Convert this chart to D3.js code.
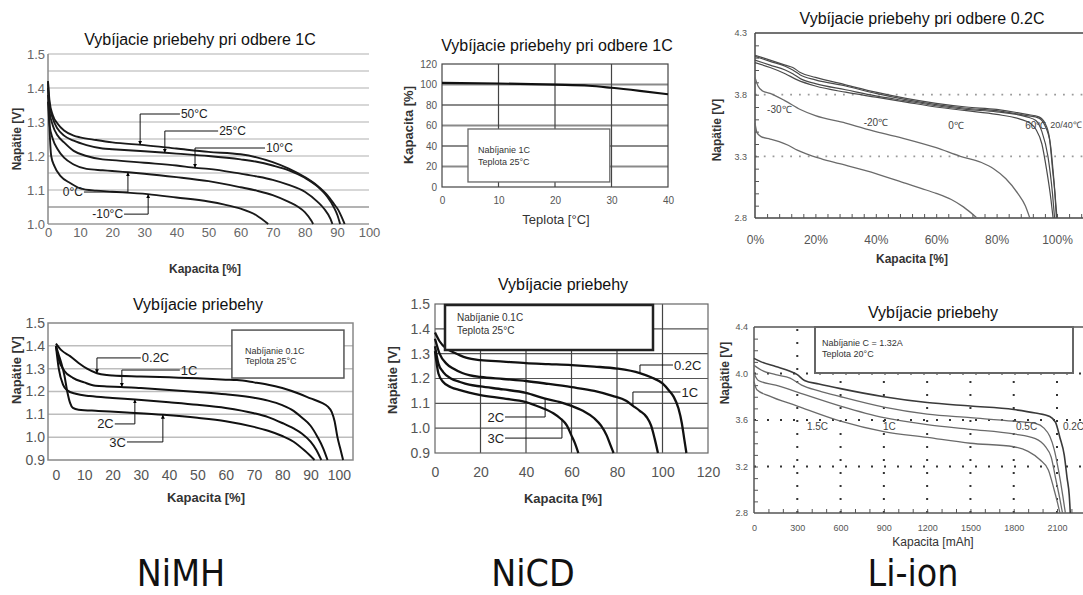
<!DOCTYPE html>
<html>
<head>
<meta charset="utf-8">
<script src="https://cdn.jsdelivr.net/npm/d3@7"></script>
<style>
  body { margin: 0; background: #fff; }
  text { font-family: "Liberation Sans", Arial, sans-serif; }
</style>
</head>
<body>
<svg id="chart" width="1083" height="595"></svg>
<script>
// ---------- data ----------

// NiMH, 1C discharge at different temperatures: [capacity %, voltage V]
const nimhTempLabels = ['50°C', '25°C', '10°C', '0°C', '-10°C'];
const nimhT50 = [[0,1.42],[0.5,1.36],[1.5,1.32],[3,1.295],[5,1.275],[8,1.26],[10,1.255],[15,1.247],[20,1.24],[30,1.232],[40,1.222],[50,1.212],[60,1.205],[65,1.196],[70,1.182],[75,1.163],[80,1.138],[84,1.112],[87,1.085],[89,1.06],[90.5,1.04],[91.5,1.02],[92.4,1.0]];
const nimhT25 = [[0,1.40],[0.5,1.35],[1.5,1.31],[3,1.28],[5,1.26],[8,1.245],[12,1.232],[17,1.222],[20,1.22],[30,1.214],[40,1.207],[50,1.2],[60,1.19],[65,1.183],[70,1.172],[75,1.158],[80,1.136],[84,1.11],[87,1.08],[89,1.05],[90.2,1.025],[91,1.0]];
const nimhT10 = [[0,1.38],[0.5,1.33],[1.5,1.29],[3,1.26],[5,1.24],[8,1.215],[12,1.2],[17,1.19],[20,1.188],[30,1.18],[40,1.172],[46,1.165],[50,1.162],[60,1.148],[65,1.14],[70,1.13],[75,1.115],[80,1.095],[84,1.065],[86,1.045],[88,1.015],[88.6,1.0]];
const nimhT0 = [[0,1.36],[0.5,1.29],[1.5,1.25],[3,1.22],[5,1.195],[8,1.175],[12,1.162],[17,1.158],[20,1.156],[25,1.152],[30,1.148],[40,1.138],[50,1.126],[60,1.108],[65,1.098],[70,1.085],[75,1.065],[78,1.05],[80,1.035],[82,1.01],[82.6,1.0]];
const nimhTm10 = [[0,1.42],[0.4,1.3],[1,1.2],[2,1.17],[4,1.14],[7,1.12],[10,1.105],[15,1.098],[20,1.095],[31,1.088],[40,1.078],[50,1.066],[55,1.057],[60,1.045],[65,1.025],[68.6,1.0]];

// NiCd, capacity vs. temperature at 1C: [temperature °C, capacity %]
const nicdTempCap = [[0,101.5],[10,101],[20,99.8],[26,98.8],[30,96.8],[35,93.8],[40,90.5]];

// Li-ion, 0.2C discharge at different temperatures: [capacity %, voltage V]
const liTempLabels = ['-30℃', '-20℃', '0℃', '60℃', '20/40℃'];
const liT20 = [[0,4.12],[5,4.08],[10,4.04],[12.5,4.02],[15,3.98],[20,3.94],[30,3.88],[40,3.82],[50,3.77],[60,3.73],[70,3.70],[80,3.68],[90,3.64],[94,3.62],[96,3.57],[97.5,3.45],[98.5,3.2],[99.3,3.0],[99.8,2.8]];
const liT40 = [[0,4.11],[5,4.07],[10,4.03],[12.5,4.0],[15,3.96],[20,3.92],[30,3.87],[40,3.81],[50,3.76],[60,3.72],[70,3.69],[80,3.67],[90,3.63],[94,3.61],[96,3.55],[97.8,3.4],[99,3.1],[100,2.8]];
const liT0 = [[0,4.08],[5,4.04],[10,4.0],[12.5,3.97],[15,3.93],[20,3.89],[30,3.84],[40,3.79],[50,3.75],[60,3.71],[70,3.68],[80,3.66],[90,3.62],[93,3.59],[95,3.5],[97,3.3],[98.5,3.0],[99.2,2.8]];
const liT60 = [[0,4.06],[5,4.02],[10,3.97],[14,3.92],[20,3.87],[30,3.82],[40,3.78],[50,3.74],[60,3.70],[70,3.67],[80,3.64],[88,3.60],[91,3.57],[93,3.52],[95,3.4],[96.5,3.2],[98,2.95],[98.7,2.8]];
const liTm20 = [[0,3.94],[1,3.87],[2.5,3.83],[5,3.81],[10,3.75],[15,3.68],[20,3.63],[30,3.57],[40,3.50],[50,3.44],[60,3.37],[68,3.30],[75,3.25],[79,3.20],[83,3.12],[87,3.0],[89.5,2.9],[91,2.8]];
const liTm30 = [[0,3.57],[0.7,3.49],[2,3.46],[5,3.44],[8,3.42],[11,3.39],[14,3.35],[17,3.32],[22,3.28],[28,3.24],[40,3.16],[50,3.08],[55,3.04],[60,3.0],[65,2.95],[69,2.89],[73.5,2.8]];

// NiMH, discharge at different rates: [capacity %, voltage V]
const nimhRateLabels = ['0.2C', '1C', '2C', '3C'];
const nimhR02 = [[0,1.41],[2,1.38],[5,1.355],[8,1.325],[11,1.3],[14.5,1.28],[18,1.272],[20,1.27],[30,1.266],[40,1.262],[50,1.258],[60,1.252],[64,1.25],[70,1.24],[75,1.23],[80,1.215],[86,1.19],[90,1.17],[94,1.15],[96,1.135],[97.5,1.11],[98.5,1.07],[99.5,1.0],[100.5,0.95],[101.5,0.9]];
const nimhR1 = [[0,1.40],[1,1.34],[3,1.29],[6,1.26],[10,1.24],[14,1.225],[18,1.222],[23,1.22],[30,1.215],[40,1.207],[50,1.198],[60,1.188],[70,1.173],[75,1.16],[80,1.14],[84,1.115],[87,1.085],[90,1.05],[92.5,1.0],[94.5,0.95],[96,0.9]];
const nimhR2 = [[0,1.40],[1,1.3],[2.5,1.23],[4,1.205],[7,1.19],[12,1.18],[20,1.172],[28,1.165],[40,1.153],[50,1.142],[60,1.128],[70,1.105],[75,1.088],[80,1.062],[84,1.038],[87,1.015],[90,0.98],[92,0.945],[93.8,0.9]];
const nimhR3 = [[0,1.40],[1,1.36],[2,1.32],[3,1.27],[4,1.2],[5,1.15],[6,1.128],[8,1.12],[15,1.115],[25,1.108],[38,1.098],[50,1.085],[60,1.07],[70,1.045],[75,1.028],[80,1.005],[84,0.98],[88,0.94],[91.4,0.9]];

// NiCd, discharge at different rates: [capacity %, voltage V]
const nicdRateLabels = ['0.2C', '1C', '2C', '3C'];
const nicdR02 = [[0,1.385],[2,1.35],[5,1.32],[8,1.306],[11,1.293],[14,1.283],[20,1.274],[30,1.268],[40,1.262],[50,1.258],[60,1.254],[70,1.248],[80,1.24],[90,1.222],[95,1.205],[100,1.18],[103,1.15],[105,1.125],[107,1.08],[108.5,1.02],[109.5,0.96],[110.5,0.9]];
const nicdR1 = [[0,1.36],[2,1.3],[5,1.26],[8,1.24],[12,1.222],[15,1.214],[20,1.206],[30,1.198],[40,1.19],[50,1.178],[60,1.165],[70,1.15],[78,1.13],[84,1.11],[87,1.09],[90,1.07],[93,1.045],[95,1.01],[96.5,0.96],[98,0.9]];
const nicdR2 = [[0,1.33],[1.5,1.26],[3.6,1.226],[7,1.2],[11,1.186],[15,1.175],[20,1.168],[30,1.156],[40,1.142],[48,1.12],[55,1.105],[60,1.09],[65,1.07],[70,1.04],[73,1.01],[75.5,0.97],[77,0.935],[78.5,0.9]];
const nicdR3 = [[0,1.31],[1.5,1.22],[3.6,1.186],[7,1.165],[11,1.153],[15,1.143],[20,1.133],[30,1.12],[40,1.105],[46,1.085],[52,1.06],[55,1.04],[58,1.01],[60,0.97],[61.5,0.94],[63,0.9]];

// Li-ion, discharge at different rates: [capacity mAh, voltage V]
const liRateLabels = ['0.2C', '0.5C', '1C', '1.5C'];
const liR02 = [[0,4.13],[50,4.10],[150,4.06],[250,4.02],[300,3.99],[350,3.94],[450,3.91],[600,3.87],[900,3.80],[1200,3.75],[1500,3.72],[1800,3.69],[1950,3.66],[2050,3.63],[2090,3.58],[2120,3.45],[2150,3.3],[2170,3.1],[2185,2.95],[2192,2.8]];
const liR05 = [[0,4.07],[50,4.03],[150,3.99],[250,3.96],[330,3.90],[450,3.85],[600,3.80],[900,3.71],[1200,3.65],[1500,3.62],[1800,3.59],[1950,3.57],[2010,3.53],[2050,3.46],[2080,3.35],[2110,3.17],[2140,2.95],[2158,2.8]];
const liR1 = [[0,4.00],[30,3.94],[150,3.90],[300,3.84],[600,3.72],[900,3.62],[1200,3.56],[1500,3.52],[1800,3.48],[1950,3.44],[2020,3.37],[2060,3.28],[2090,3.1],[2120,2.92],[2138,2.8]];
const liR15 = [[0,3.93],[20,3.86],[100,3.81],[300,3.72],[600,3.59],[900,3.50],[1200,3.45],[1500,3.40],[1800,3.37],[1900,3.33],[1980,3.26],[2040,3.17],[2080,3.0],[2105,2.88],[2120,2.8]];

// tick values
const nimhVTicks = [1.0, 1.1, 1.2, 1.3, 1.4, 1.5];
const rateVTicks = [0.9, 1.0, 1.1, 1.2, 1.3, 1.4, 1.5];
const pctTicks = [0, 10, 20, 30, 40, 50, 60, 70, 80, 90, 100];
const nicdPctTicks = [0, 20, 40, 60, 80, 100, 120];
const capTicks = [0, 20, 40, 60, 80, 100, 120];
const tempTicks = [0, 10, 20, 30, 40];
const liTopVTicks = [2.8, 3.3, 3.8, 4.3];
const liTopPctTicks = [0, 20, 40, 60, 80, 100];
const liBotVTicks = [2.8, 3.2, 3.6, 4.0, 4.4];
const mAhTicks = [0, 300, 600, 900, 1200, 1500, 1800, 2100];

const chemistries = ['NiMH', 'NiCD', 'Li-ion'];

// ---------- helpers ----------
const svg = d3.select('#chart');

svg.append('defs').append('marker')
    .attr('id', 'arr')
    .attr('viewBox', '0 0 10 10')
    .attr('refX', 10).attr('refY', 5)
    .attr('markerWidth', 4).attr('markerHeight', 7)
    .attr('orient', 'auto')
  .append('path')
    .attr('d', 'M0,0L10,5L0,10z')
    .attr('fill', '#000');

const lineGen = (x, y) => d3.line()
    .x(d => x(d[0])).y(d => y(d[1]))
    .curve(d3.curveMonotoneX);

function yAt(s, xv) {
    for (let i = 0; i < s.length - 1; i++) {
        if (xv >= s[i][0] && xv <= s[i + 1][0]) {
            const t = (xv - s[i][0]) / (s[i + 1][0] - s[i][0]);
            return s[i][1] + t * (s[i + 1][1] - s[i][1]);
        }
    }
    return s[s.length - 1][1];
}

function tickText(g, axis, tr, size, color) {
    const a = g.append('g').attr('transform', tr).call(axis);
    a.select('.domain').remove();
    a.selectAll('.tick line').remove();
    a.attr('font-size', size).style('color', color);
    return a;
}

function text(g, str, x, y, o) {
    o = o || {};
    const t = g.append('text')
        .attr('x', x).attr('y', y)
        .attr('font-size', o.size || 12)
        .attr('fill', o.fill || '#333')
        .attr('text-anchor', o.anchor || 'start')
        .text(str);
    if (o.weight) t.attr('font-weight', o.weight);
    if (o.dy) t.attr('dy', o.dy);
    if (o.rotate) t.attr('transform', `rotate(-90,${x},${y})`);
    return t;
}

// leader line: vertical from curve to ty, horizontal to hx, label at hx
function note(g, x, y, series, str, a, arrow, size) {
    const tip = yAt(series, a.lx);
    g.append('line')
        .attr('x1', x(a.lx)).attr('x2', x(a.hx))
        .attr('y1', y(a.ty)).attr('y2', y(a.ty))
        .attr('stroke', '#111').attr('stroke-width', 1);
    g.append('line')
        .attr('x1', x(a.lx)).attr('x2', x(a.lx))
        .attr('y1', y(a.ty)).attr('y2', y(tip))
        .attr('stroke', '#111').attr('stroke-width', 1)
        .attr('marker-end', arrow ? 'url(#arr)' : null);
    const right = a.hx > a.lx;
    text(g, str, x(a.hx) + (right ? 1 : -1), y(a.ty), {
        size: size, anchor: right ? 'start' : 'end', dy: '0.35em', fill: '#222'
    });
}

function hlines(g, vals, x0, x1, y, stroke, w, dash) {
    g.append('g').selectAll('line').data(vals).join('line')
        .attr('x1', x0).attr('x2', x1)
        .attr('y1', d => y(d)).attr('y2', d => y(d))
        .attr('stroke', stroke).attr('stroke-width', w)
        .attr('stroke-dasharray', dash || null);
}

function vlines(g, vals, y0, y1, x, stroke, w, dash) {
    g.append('g').selectAll('line').data(vals).join('line')
        .attr('y1', y0).attr('y2', y1)
        .attr('x1', d => x(d)).attr('x2', d => x(d))
        .attr('stroke', stroke).attr('stroke-width', w)
        .attr('stroke-dasharray', dash || null);
}

function curves(g, list, x, y, stroke, w) {
    g.append('g').selectAll('path').data(list).join('path')
        .attr('d', lineGen(x, y))
        .attr('fill', 'none')
        .attr('stroke', stroke)
        .attr('stroke-width', w)
        .attr('stroke-linejoin', 'round');
}

// ---------- 1: NiMH, temperatures ----------
{
    const g = svg.append('g');
    const x = d3.scaleLinear().domain([0, 100]).range([48, 369]);
    const y = d3.scaleLinear().domain([1.0, 1.5]).range([224, 54]);
    const grid = d3.range(1.1, 1.501, 0.05);
    hlines(g, grid, x(0), x(100), y, '#cacaca', 1.6);
    hlines(g, [1.05], x(0), x(100), y, '#9a9a9a', 1.4);
    hlines(g, [1.0], x(0), x(100), y, '#999', 1.4);
    vlines(g, [0], y(1.0), y(1.5), x, '#888', 1.5);

    tickText(g, d3.axisLeft(y).tickValues(nimhVTicks).tickFormat(d3.format('.1f')).tickSize(0).tickPadding(3),
        `translate(${x(0)},0)`, 13, '#666');
    tickText(g, d3.axisBottom(x).tickValues(pctTicks).tickSize(0).tickPadding(4),
        `translate(0,${y(1.0)})`, 13, '#666');

    curves(g, [nimhT50, nimhT25, nimhT10, nimhT0, nimhTm10], x, y, '#1a1a1a', 1.9);

    const notes = [
        {lx: 28.7, hx: 41.1, ty: 1.3235},
        {lx: 36.4, hx: 53.0, ty: 1.2735},
        {lx: 45.8, hx: 67.6, ty: 1.2235},
        {lx: 24.9, hx: 11.2, ty: 1.094},
        {lx: 31.2, hx: 23.7, ty: 1.029}
    ];
    [nimhT50, nimhT25, nimhT10, nimhT0, nimhTm10].forEach((s, i) =>
        note(g, x, y, s, nimhTempLabels[i], notes[i], true, 12));

    text(g, 'Vybíjacie priebehy pri odbere 1C', 200, 45, {size: 16, anchor: 'middle', fill: '#111'});
    text(g, 'Napätie [V]', 21, 139, {size: 12, anchor: 'middle', weight: 'bold', rotate: true, fill: '#333'});
    text(g, 'Kapacita [%]', 205, 273, {size: 12, anchor: 'middle', weight: 'bold', fill: '#333'});
}

// ---------- 2: NiCd, capacity vs temperature ----------
{
    const g = svg.append('g');
    const x = d3.scaleLinear().domain([0, 40]).range([442, 668]);
    const y = d3.scaleLinear().domain([0, 120]).range([187, 64]);
    hlines(g, [20, 40, 60, 80, 100], x(0), x(40), y, '#8a8a8a', 1.8);
    vlines(g, [10, 20, 30], y(0), y(120), x, '#444', 1.2);
    g.append('rect')
        .attr('x', x(0)).attr('y', y(120))
        .attr('width', x(40) - x(0)).attr('height', y(0) - y(120))
        .attr('fill', 'none').attr('stroke', '#444').attr('stroke-width', 1.2);

    tickText(g, d3.axisLeft(y).tickValues(capTicks).tickSize(0).tickPadding(5),
        `translate(${x(0)},0)`, 10, '#555');
    tickText(g, d3.axisBottom(x).tickValues(tempTicks).tickSize(0).tickPadding(10),
        `translate(0,${y(0)})`, 10, '#555');

    curves(g, [nicdTempCap], x, y, '#111', 2.2);

    g.append('rect')
        .attr('x', x(4.6)).attr('y', y(56.6))
        .attr('width', x(29.7) - x(4.6)).attr('height', y(4.9) - y(56.6))
        .attr('fill', '#fff').attr('stroke', '#666').attr('stroke-width', 1.3);
    text(g, 'Nabíjanie 1C', x(4.6) + 10, y(56.6) + 24, {size: 9, fill: '#333'});
    text(g, 'Teplota 25°C', x(4.6) + 10, y(56.6) + 36, {size: 9, fill: '#333'});

    text(g, 'Vybíjacie priebehy pri odbere 1C', 557, 51, {size: 16, anchor: 'middle', fill: '#111'});
    text(g, 'Kapacita [%]', 413, 125, {size: 13, anchor: 'middle', weight: 'bold', rotate: true, fill: '#333'});
    text(g, 'Teplota [°C]', 556, 224, {size: 13, anchor: 'middle', fill: '#333'});
}

// ---------- 3: Li-ion, temperatures ----------
{
    const g = svg.append('g');
    const x = d3.scaleLinear().domain([0, 100]).range([755, 1057]);
    const y = d3.scaleLinear().domain([2.8, 4.3]).range([218, 33]);
    const xEnd = 1083;
    hlines(g, [3.8, 3.3], x(0), xEnd, y, '#9a9a9a', 1.8, '1.8,7');
    hlines(g, [4.3, 2.8], x(0), xEnd, y, '#444', 1.5);
    vlines(g, [0], y(2.8), y(4.3), x, '#444', 1.5);

    const minorL = g.append('g').attr('transform', `translate(${x(0)},0)`)
        .call(d3.axisLeft(y).tickValues(d3.range(2.9, 4.25, 0.1)).tickSize(-4).tickFormat(''));
    minorL.select('.domain').remove();
    minorL.selectAll('line').attr('stroke', '#555');
    const minorB = g.append('g').attr('transform', `translate(0,${y(2.8)})`)
        .call(d3.axisBottom(x).tickValues(d3.range(4, 109, 4)).tickSize(-4).tickFormat(''));
    minorB.select('.domain').remove();
    minorB.selectAll('line').attr('stroke', '#555');

    tickText(g, d3.axisLeft(y).tickValues(liTopVTicks).tickFormat(d3.format('.1f')).tickSize(0).tickPadding(8),
        `translate(${x(0)},0)`, 9, '#555');
    tickText(g, d3.axisBottom(x).tickValues(liTopPctTicks).tickFormat(d => d + '%').tickSize(0).tickPadding(17),
        `translate(0,${y(2.8)})`, 12, '#555');

    curves(g, [liTm30, liTm20], x, y, '#6a6a6a', 1.3);
    curves(g, [liT60, liT0, liT40, liT20], x, y, '#4a4a4a', 1.2);

    const lbl = [[4, 3.676], [36, 3.578], [64, 3.554], [89.5, 3.554], [97.8, 3.554]];
    liTempLabels.forEach((s, i) =>
        text(g, s, x(lbl[i][0]), y(lbl[i][1]), {size: i === 4 ? 9 : 10, dy: '0.35em', fill: '#444'}));

    text(g, 'Vybíjacie priebehy pri odbere 0.2C', 922, 24, {size: 16, anchor: 'middle', fill: '#111'});
    text(g, 'Napätie [V]', 721, 130, {size: 12, anchor: 'middle', weight: 'bold', rotate: true, fill: '#333'});
    text(g, 'Kapacita [%]', 912, 263, {size: 12, anchor: 'middle', weight: 'bold', fill: '#333'});
}

// ---------- 4: NiMH, rates ----------
{
    const g = svg.append('g');
    const x = d3.scaleLinear().domain([-2.8, 105]).range([48, 353]);
    const y = d3.scaleLinear().domain([0.9, 1.5]).range([460, 323]);
    hlines(g, [1.0, 1.1, 1.2, 1.3, 1.4], x(-2.8), x(105), y, '#bdbdbd', 1.5);
    g.append('rect')
        .attr('x', x(-2.8)).attr('y', y(1.5))
        .attr('width', x(105) - x(-2.8)).attr('height', y(0.9) - y(1.5))
        .attr('fill', 'none').attr('stroke', '#888').attr('stroke-width', 1.5);

    tickText(g, d3.axisLeft(y).tickValues(rateVTicks).tickFormat(d3.format('.1f')).tickSize(0).tickPadding(3),
        `translate(${x(-2.8)},0)`, 14, '#555');
    tickText(g, d3.axisBottom(x).tickValues(pctTicks).tickSize(0).tickPadding(10),
        `translate(0,${y(0.9)})`, 14, '#555');

    const list = [nimhR02, nimhR1, nimhR2, nimhR3];
    curves(g, list, x, y, '#111', 2);

    const notes = [
        {lx: 14.5, hx: 30.0, ty: 1.347},
        {lx: 23.3, hx: 43.8, ty: 1.294},
        {lx: 27.9, hx: 20.8, ty: 1.058},
        {lx: 37.8, hx: 25.1, ty: 0.979}
    ];
    list.forEach((s, i) => note(g, x, y, s, nimhRateLabels[i], notes[i], true, 13));

    g.append('rect')
        .attr('x', x(62.2)).attr('y', y(1.469))
        .attr('width', x(101.8) - x(62.2)).attr('height', y(1.259) - y(1.469))
        .attr('fill', '#fff').attr('stroke', '#555').attr('stroke-width', 1.5);
    text(g, 'Nabíjanie 0.1C', x(62.2) + 13, y(1.469) + 24, {size: 9, fill: '#333'});
    text(g, 'Teplota 25°C', x(62.2) + 13, y(1.469) + 34, {size: 9, fill: '#333'});

    text(g, 'Vybíjacie priebehy', 198, 310, {size: 16, anchor: 'middle', fill: '#111'});
    text(g, 'Napätie [V]', 21, 370, {size: 13, anchor: 'middle', weight: 'bold', rotate: true, fill: '#333'});
    text(g, 'Kapacita [%]', 206, 502, {size: 13, anchor: 'middle', weight: 'bold', fill: '#333'});
}

// ---------- 5: NiCd, rates ----------
{
    const g = svg.append('g');
    const x = d3.scaleLinear().domain([0, 120]).range([435, 708]);
    const y = d3.scaleLinear().domain([0.9, 1.5]).range([453, 304]);
    hlines(g, [1.0, 1.1, 1.2, 1.3, 1.4], x(0), x(120), y, '#555', 1.2);
    vlines(g, [20, 40, 60, 80, 100], y(0.9), y(1.5), x, '#444', 1.2);
    g.append('rect')
        .attr('x', x(0)).attr('y', y(1.5))
        .attr('width', x(120) - x(0)).attr('height', y(0.9) - y(1.5))
        .attr('fill', 'none').attr('stroke', '#666').attr('stroke-width', 1.2);

    tickText(g, d3.axisLeft(y).tickValues(rateVTicks).tickFormat(d3.format('.1f')).tickSize(0).tickPadding(5),
        `translate(${x(0)},0)`, 14, '#555');
    tickText(g, d3.axisBottom(x).tickValues(nicdPctTicks).tickSize(0).tickPadding(14),
        `translate(0,${y(0.9)})`, 14, '#555');

    const list = [nicdR02, nicdR1, nicdR2, nicdR3];
    curves(g, list, x, y, '#111', 2.3);

    const notes = [
        {lx: 90.1, hx: 104.6, ty: 1.2543},
        {lx: 87.0, hx: 107.9, ty: 1.1456},
        {lx: 48.4, hx: 30.8, ty: 1.045},
        {lx: 55.8, hx: 30.8, ty: 0.96}
    ];
    list.forEach((s, i) => note(g, x, y, s, nicdRateLabels[i], notes[i], false, 13));

    g.append('rect')
        .attr('x', 445).attr('y', 305)
        .attr('width', 208).attr('height', 45)
        .attr('fill', '#fff').attr('stroke', '#222').attr('stroke-width', 2.5);
    text(g, 'Nabíjanie 0.1C', 457, 321, {size: 10, fill: '#333'});
    text(g, 'Teplota 25°C', 457, 334, {size: 10, fill: '#333'});

    text(g, 'Vybíjacie priebehy', 563, 290, {size: 16, anchor: 'middle', fill: '#111'});
    text(g, 'Napätie [V]', 397, 380, {size: 13, anchor: 'middle', weight: 'bold', rotate: true, fill: '#333'});
    text(g, 'Kapacita [%]', 563, 503, {size: 13, anchor: 'middle', weight: 'bold', fill: '#333'});
}

// ---------- 6: Li-ion, rates ----------
{
    const g = svg.append('g');
    const x = d3.scaleLinear().domain([0, 2100]).range([754, 1057]);
    const y = d3.scaleLinear().domain([2.8, 4.4]).range([513, 327]);
    const xEnd = 1083;
    vlines(g, d3.range(300, 2101, 300), y(2.8), y(4.4), x, '#333', 2, '2,11');
    hlines(g, [4.0, 3.6, 3.2], x(0), xEnd, y, '#333', 2, '2,11');
    hlines(g, [4.4, 2.8], x(0), xEnd, y, '#555', 1.5);
    vlines(g, [0], y(2.8), y(4.4), x, '#555', 1.5);

    const minorL = g.append('g').attr('transform', `translate(${x(0)},0)`)
        .call(d3.axisLeft(y).tickValues(d3.range(2.9, 4.35, 0.1)).tickSize(-4).tickFormat(''));
    minorL.select('.domain').remove();
    minorL.selectAll('line').attr('stroke', '#555');
    const minorB = g.append('g').attr('transform', `translate(0,${y(2.8)})`)
        .call(d3.axisBottom(x).tickValues(d3.range(100, 2201, 100)).tickSize(-4).tickFormat(''));
    minorB.select('.domain').remove();
    minorB.selectAll('line').attr('stroke', '#555');

    tickText(g, d3.axisLeft(y).tickValues(liBotVTicks).tickFormat(d3.format('.1f')).tickSize(0).tickPadding(6),
        `translate(${x(0)},0)`, 9, '#555');
    tickText(g, d3.axisBottom(x).tickValues(mAhTicks).tickFormat(d3.format('d')).tickSize(0).tickPadding(12),
        `translate(0,${y(2.8)})`, 9, '#555');

    curves(g, [liR15, liR1, liR05], x, y, '#6a6a6a', 1.3);
    curves(g, [liR02], x, y, '#3a3a3a', 1.6);

    const lbl = [[2141, 3.54], [1816, 3.54], [894, 3.54], [367, 3.54]];
    liRateLabels.forEach((s, i) =>
        text(g, s, x(lbl[i][0]), y(lbl[i][1]), {size: 10, dy: '0.35em', fill: '#444'}));

    g.append('rect')
        .attr('x', 815).attr('y', 327)
        .attr('width', 258).attr('height', 46)
        .attr('fill', '#fff').attr('stroke', '#666').attr('stroke-width', 2);
    text(g, 'Nabíjanie C = 1.32A', 822, 346, {size: 9, fill: '#333'});
    text(g, 'Teplota 20°C', 822, 357, {size: 9, fill: '#333'});

    text(g, 'Vybíjacie priebehy', 933, 318, {size: 16, anchor: 'middle', fill: '#111'});
    text(g, 'Napätie [V]', 729, 373, {size: 12, anchor: 'middle', weight: 'bold', rotate: true, fill: '#333'});
    text(g, 'Kapacita [mAh]', 933, 545.5, {size: 12, anchor: 'middle', fill: '#333'});
}

// ---------- chemistry captions ----------
const capX = [181, 533, 913];
chemistries.forEach((s, i) => {
    svg.append('text')
        .attr('transform', `translate(${capX[i]},585.5) scale(0.88,1)`)
        .attr('text-anchor', 'middle')
        .attr('font-size', 38)
        .attr('fill', '#111')
        .style('font-family', '"DejaVu Sans", Verdana, sans-serif')
        .text(s);
});
</script>
</body>
</html>
